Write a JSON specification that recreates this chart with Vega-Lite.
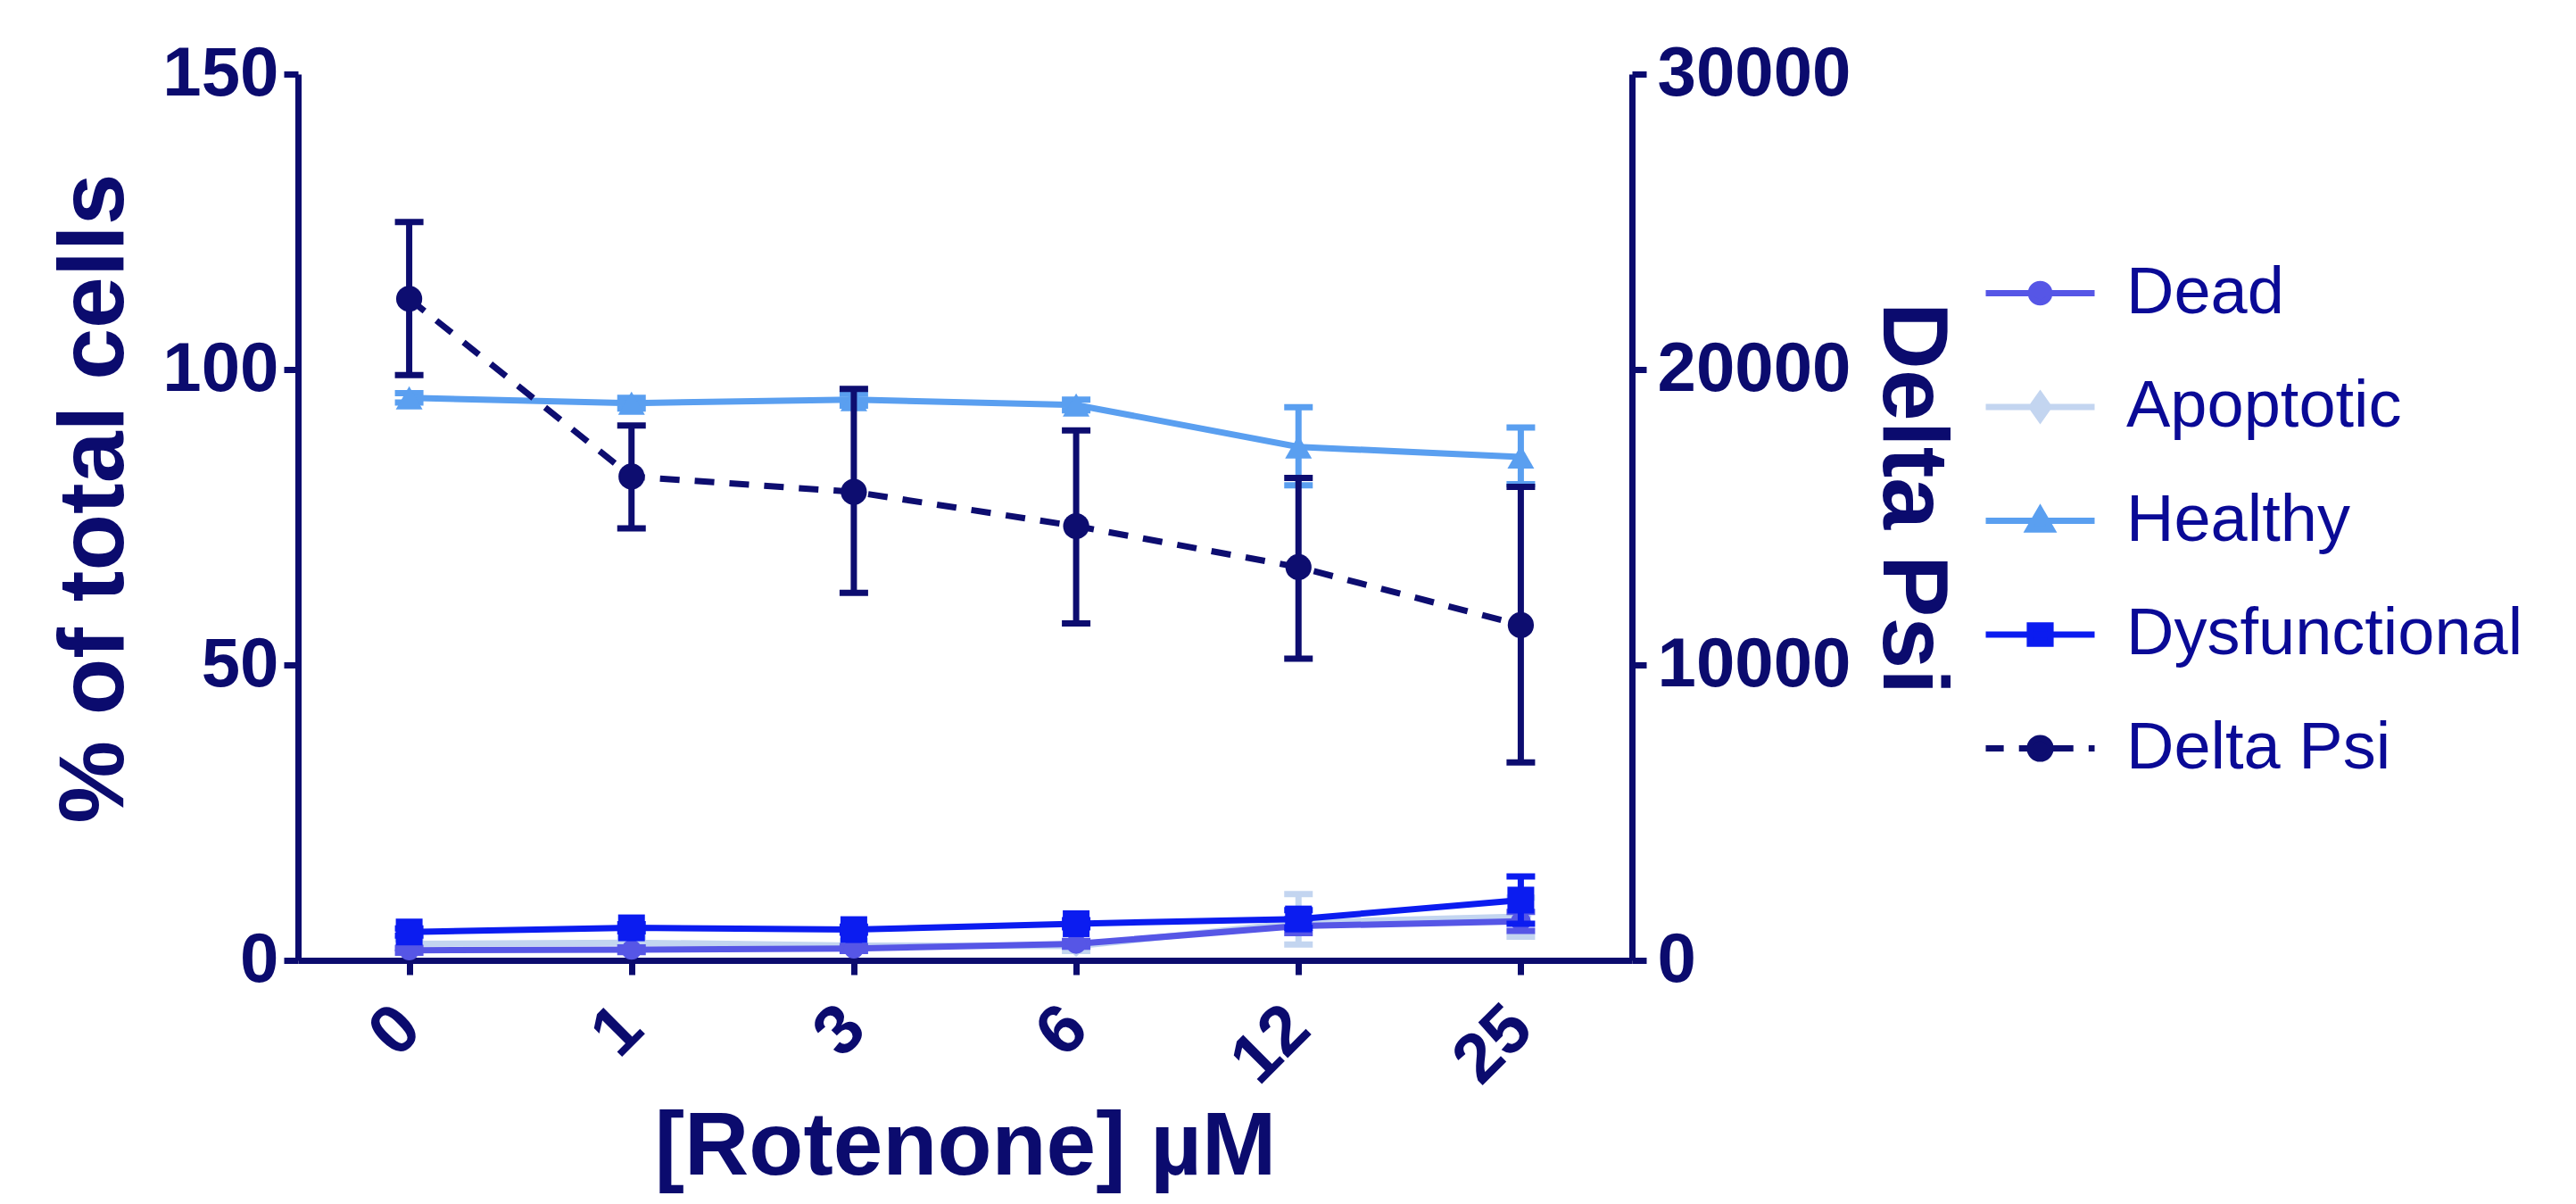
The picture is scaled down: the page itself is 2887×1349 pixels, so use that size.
{
  "$schema": "https://vega.github.io/schema/vega-lite/v6.json",
  "width": 1495,
  "height": 993,
  "autosize": {"type": "none"},
  "padding": {"left": 334, "top": 83, "right": 1058, "bottom": 273},
  "background": "white",
  "config": {
    "view": {"stroke": null},
    "axis": {
      "domainColor": "#0b0b6e", "domainWidth": 7,
      "tickColor": "#0b0b6e", "tickWidth": 7, "tickSize": 16,
      "labelColor": "#0b0b6e", "labelFont": "Liberation Sans", "labelFontWeight": "bold", "labelFontSize": 78, "labelLimit": 400,
      "titleColor": "#0b0b6e", "titleFont": "Liberation Sans", "titleFontWeight": "bold", "titleFontSize": 104, "titleLimit": 1000,
      "grid": false
    },
    "legend": {
      "labelFont": "Liberation Sans", "labelFontSize": 74, "labelColor": "#0a0a96", "labelLimit": 1000,
      "padding": 0
    }
  },
  "datasets": {
    "pct": [
      {"series": "Dead", "conc": "0", "mean": 1.7, "lo": 1.3, "hi": 2.1},
      {"series": "Dead", "conc": "1", "mean": 1.8, "lo": 1.4, "hi": 2.2},
      {"series": "Dead", "conc": "3", "mean": 2.0, "lo": 1.6, "hi": 2.4},
      {"series": "Dead", "conc": "6", "mean": 2.8, "lo": 2.3, "hi": 3.3},
      {"series": "Dead", "conc": "12", "mean": 5.8, "lo": 4.6, "hi": 7.0},
      {"series": "Dead", "conc": "25", "mean": 6.6, "lo": 5.0, "hi": 8.2},
      {"series": "Apoptotic", "conc": "0", "mean": 2.8, "lo": 2.0, "hi": 3.6},
      {"series": "Apoptotic", "conc": "1", "mean": 3.0, "lo": 2.2, "hi": 3.8},
      {"series": "Apoptotic", "conc": "3", "mean": 2.5, "lo": 1.7, "hi": 3.3},
      {"series": "Apoptotic", "conc": "6", "mean": 2.4, "lo": 1.6, "hi": 3.2},
      {"series": "Apoptotic", "conc": "12", "mean": 6.4, "lo": 2.7, "hi": 11.2},
      {"series": "Apoptotic", "conc": "25", "mean": 7.4, "lo": 4.0, "hi": 10.6},
      {"series": "Healthy", "conc": "0", "mean": 95.2, "lo": 94.4, "hi": 96.0},
      {"series": "Healthy", "conc": "1", "mean": 94.3, "lo": 93.4, "hi": 95.2},
      {"series": "Healthy", "conc": "3", "mean": 94.9, "lo": 93.9, "hi": 95.9},
      {"series": "Healthy", "conc": "6", "mean": 94.0, "lo": 93.1, "hi": 94.9},
      {"series": "Healthy", "conc": "12", "mean": 86.9, "lo": 80.4, "hi": 93.6},
      {"series": "Healthy", "conc": "25", "mean": 85.2, "lo": 80.6, "hi": 90.2},
      {"series": "Dysfunctional", "conc": "0", "mean": 4.8, "lo": 4.2, "hi": 5.4},
      {"series": "Dysfunctional", "conc": "1", "mean": 5.5, "lo": 4.9, "hi": 6.1},
      {"series": "Dysfunctional", "conc": "3", "mean": 5.2, "lo": 4.7, "hi": 5.7},
      {"series": "Dysfunctional", "conc": "6", "mean": 6.2, "lo": 5.6, "hi": 6.8},
      {"series": "Dysfunctional", "conc": "12", "mean": 7.0, "lo": 5.5, "hi": 8.5},
      {"series": "Dysfunctional", "conc": "25", "mean": 10.2, "lo": 6.2, "hi": 14.2}
    ],
    "psi": [
      {"conc": "0", "mean": 22394, "lo": 19810, "hi": 24990},
      {"conc": "1", "mean": 16376, "lo": 14620, "hi": 18108},
      {"conc": "3", "mean": 15857, "lo": 12443, "hi": 19345},
      {"conc": "6", "mean": 14698, "lo": 11408, "hi": 17936},
      {"conc": "12", "mean": 13309, "lo": 10213, "hi": 16327},
      {"conc": "25", "mean": 11348, "lo": 6700, "hi": 16026}
    ]
  },
  "encoding": {
    "x": {
      "field": "conc", "type": "ordinal",
      "sort": ["0", "1", "3", "6", "12", "25"],
      "scale": {"type": "point", "padding": 0.5},
      "title": "[Rotenone] µM",
      "axis": {"labelAngle": -45, "labelAlign": "right", "labelBaseline": "middle", "labelPadding": 48, "titlePadding": 8, "titleFontSize": 100}
    }
  },
  "layer": [
    {
      "data": {"name": "pct"},
      "layer": [
        {
          "transform": [{"filter": "datum.series === 'Apoptotic'"}],
          "layer": [
            {"mark": {"type": "errorbar", "color": "#c3d5f0", "ticks": {"size": 32, "thickness": 7, "color": "#c3d5f0", "opacity": 1}, "rule": {"strokeWidth": 7, "color": "#c3d5f0", "opacity": 1}},
             "encoding": {"y": {"field": "lo", "type": "quantitative", "title": "% of total cells", "scale": {"domain": [0, 150]}, "axis": {"orient": "left", "values": [0, 50, 100, 150], "labelPadding": 6, "titlePadding": 22, "titleY": 475}}, "y2": {"field": "hi"}}},
            {"mark": {"type": "line", "color": "#c3d5f0", "strokeWidth": 7, "point": {"shape": "diamond", "size": 600, "filled": true, "color": "#c3d5f0", "opacity": 1}},
             "encoding": {"y": {"field": "mean", "type": "quantitative", "title": "% of total cells", "scale": {"domain": [0, 150]}}}}
          ]
        },
        {
          "transform": [{"filter": "datum.series === 'Dead'"}],
          "layer": [
            {"mark": {"type": "errorbar", "color": "#5656e6", "ticks": {"size": 32, "thickness": 7, "color": "#5656e6", "opacity": 1}, "rule": {"strokeWidth": 7, "color": "#5656e6", "opacity": 1}},
             "encoding": {"y": {"field": "lo", "type": "quantitative", "title": "% of total cells", "scale": {"domain": [0, 150]}}, "y2": {"field": "hi"}}},
            {"mark": {"type": "line", "color": "#5656e6", "strokeWidth": 7, "point": {"shape": "circle", "size": 500, "filled": true, "color": "#5656e6", "opacity": 1}},
             "encoding": {"y": {"field": "mean", "type": "quantitative", "title": "% of total cells", "scale": {"domain": [0, 150]}}}}
          ]
        },
        {
          "transform": [{"filter": "datum.series === 'Healthy'"}],
          "layer": [
            {"mark": {"type": "errorbar", "color": "#5a9ff0", "ticks": {"size": 32, "thickness": 7, "color": "#5a9ff0", "opacity": 1}, "rule": {"strokeWidth": 7, "color": "#5a9ff0", "opacity": 1}},
             "encoding": {"y": {"field": "lo", "type": "quantitative", "title": "% of total cells", "scale": {"domain": [0, 150]}}, "y2": {"field": "hi"}}},
            {"mark": {"type": "line", "color": "#5a9ff0", "strokeWidth": 7, "point": {"shape": "triangle-up", "size": 900, "filled": true, "color": "#5a9ff0", "opacity": 1}},
             "encoding": {"y": {"field": "mean", "type": "quantitative", "title": "% of total cells", "scale": {"domain": [0, 150]}}}}
          ]
        },
        {
          "transform": [{"filter": "datum.series === 'Dysfunctional'"}],
          "layer": [
            {"mark": {"type": "errorbar", "color": "#0b1cf0", "ticks": {"size": 32, "thickness": 7, "color": "#0b1cf0", "opacity": 1}, "rule": {"strokeWidth": 7, "color": "#0b1cf0", "opacity": 1}},
             "encoding": {"y": {"field": "lo", "type": "quantitative", "title": "% of total cells", "scale": {"domain": [0, 150]}}, "y2": {"field": "hi"}}},
            {"mark": {"type": "line", "color": "#0b1cf0", "strokeWidth": 7, "point": {"shape": "square", "size": 900, "filled": true, "color": "#0b1cf0", "opacity": 1}},
             "encoding": {"y": {"field": "mean", "type": "quantitative", "title": "% of total cells", "scale": {"domain": [0, 150]}}}}
          ]
        },
        {
          "mark": {"type": "point", "filled": true, "opacity": 0},
          "encoding": {
            "y": {"field": "mean", "type": "quantitative", "title": "% of total cells", "scale": {"domain": [0, 150]}},
            "fill": {"field": "series", "type": "nominal",
              "scale": {"domain": ["Dead", "Apoptotic", "Healthy", "Dysfunctional", "Delta Psi"], "range": ["#5656e6", "#c3d5f0", "#5a9ff0", "#0b1cf0", "#0d0d70"]},
              "legend": {"title": null, "orient": "none", "legendX": 1888, "legendY": 181, "symbolSize": 14884, "symbolStrokeWidth": 7, "symbolOpacity": 1, "labelOffset": 32, "rowPadding": 25.5}},
            "stroke": {"field": "series", "type": "nominal",
              "scale": {"domain": ["Dead", "Apoptotic", "Healthy", "Dysfunctional", "Delta Psi"], "range": ["#5656e6", "#c3d5f0", "#5a9ff0", "#0b1cf0", "#0d0d70"]},
              "legend": {"title": null, "orient": "none", "legendX": 1888, "legendY": 181, "symbolSize": 14884, "symbolStrokeWidth": 7, "symbolOpacity": 1, "labelOffset": 32, "rowPadding": 25.5}},
            "shape": {"field": "series", "type": "nominal",
              "scale": {"domain": ["Dead", "Apoptotic", "Healthy", "Dysfunctional", "Delta Psi"], "range": [
                "M-1,0H1M-0.17,0A0.17,0.17,0,1,1,0.17,0A0.17,0.17,0,1,1,-0.17,0Z",
                "M-1,0H1M0,-0.22L0.155,0L0,0.22L-0.155,0Z",
                "M-1,0H1M0,-0.2L0.21,0.16L-0.21,0.16Z",
                "M-1,0H1M-0.19,-0.17H0.19V0.17H-0.19Z",
                "M-1,0H-0.67M-0.39,0H0.61M0.89,0H1M-0.19,0A0.19,0.19,0,1,1,0.19,0A0.19,0.19,0,1,1,-0.19,0Z"
              ]},
              "legend": {"title": null, "orient": "none", "legendX": 1888, "legendY": 181, "symbolSize": 14884, "symbolStrokeWidth": 7, "symbolOpacity": 1, "labelOffset": 32, "rowPadding": 25.5}}
          }
        }
      ]
    },
    {
      "data": {"name": "psi"},
      "layer": [
        {"mark": {"type": "errorbar", "color": "#0d0d70", "ticks": {"size": 32, "thickness": 7, "color": "#0d0d70", "opacity": 1}, "rule": {"strokeWidth": 7, "color": "#0d0d70", "opacity": 1}},
         "encoding": {"y": {"field": "lo", "type": "quantitative", "title": "Delta Psi", "scale": {"domain": [0, 30000]}, "axis": {"orient": "right", "values": [0, 10000, 20000, 30000], "format": "d", "labelPadding": 12, "titlePadding": 59, "titleY": 475}}, "y2": {"field": "hi"}}},
        {"mark": {"type": "line", "color": "#0d0d70", "strokeWidth": 7, "strokeDash": [22, 17], "point": {"shape": "circle", "size": 855, "filled": true, "color": "#0d0d70", "opacity": 1}},
         "encoding": {"y": {"field": "mean", "type": "quantitative", "title": "Delta Psi", "scale": {"domain": [0, 30000]}}}}
      ]
    }
  ],
  "resolve": {"scale": {"y": "independent"}}
}
